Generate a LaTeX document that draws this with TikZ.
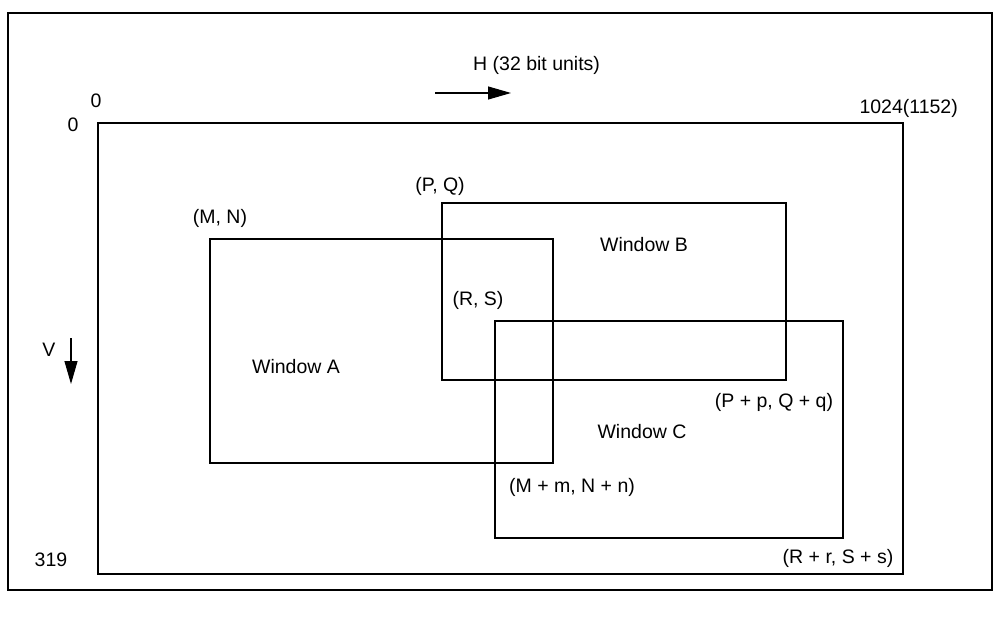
\documentclass[tikz,border=0pt]{standalone}
\usepackage{fontspec}
\setmainfont{Liberation Sans}
\usetikzlibrary{arrows.meta}
\begin{document}
\begin{tikzpicture}[x=1pt,y=-1pt,
  box/.style={draw, line width=1.2pt},
  lbl/.style={font=\fontsize{19.5}{23}\selectfont, inner sep=0pt},
  axisarrow/.style={line width=1.1pt, -{Triangle[length=23pt,width=13pt]}}]
\useasboundingbox (0,0) rectangle (996,618);
% outer frame
\coordinate (f1) at (8,13);
\coordinate (f2) at (992,590);
\draw[box] (f1) rectangle (f2);
% screen
\coordinate (s1) at (98,123);
\coordinate (s2) at (903,574);
\draw[box] (s1) rectangle (s2);
% windows
\coordinate (a1) at (210,239);
\coordinate (a2) at (553,463);
\draw[box] (a1) rectangle (a2);
\coordinate (b1) at (442,203);
\coordinate (b2) at (786,380);
\draw[box] (b1) rectangle (b2);
\coordinate (c1) at (495,321);
\coordinate (c2) at (843,538);
\draw[box] (c1) rectangle (c2);
% axis arrows
\coordinate (hs) at (435,93);
\coordinate (he) at (511,93);
\draw[axisarrow] (hs) -- (he);
\coordinate (vs) at (71,338);
\coordinate (ve) at (71,384);
\draw[axisarrow] (vs) -- (ve);
% labels
\node[lbl, anchor=west] (hl) at (473,65) {H (32 bit units)};
\node[lbl] (vl) at (49,350) {V};
\node[lbl] (z1) at (96,101) {0};
\node[lbl] (z2) at (73,125) {0};
\node[lbl, anchor=east] (max) at (958,108) {1024(1152)};
\node[lbl] (l319) at (51,560) {319};
\node[lbl] (mn) at (220,218) {(M, N)};
\node[lbl] (pq) at (440,186) {(P, Q)};
\node[lbl] (rs) at (478,300) {(R, S)};
\node[lbl] (wa) at (296,367) {Window A};
\node[lbl] (wb) at (644,245) {Window B};
\node[lbl] (wc) at (642,432) {Window C};
\node[lbl] (pqq) at (774,402) {(P + p, Q + q)};
\node[lbl] (mnn) at (572,487) {(M + m, N + n)};
\node[lbl] (rss) at (838,558) {(R + r, S + s)};
\end{tikzpicture}
\end{document}
